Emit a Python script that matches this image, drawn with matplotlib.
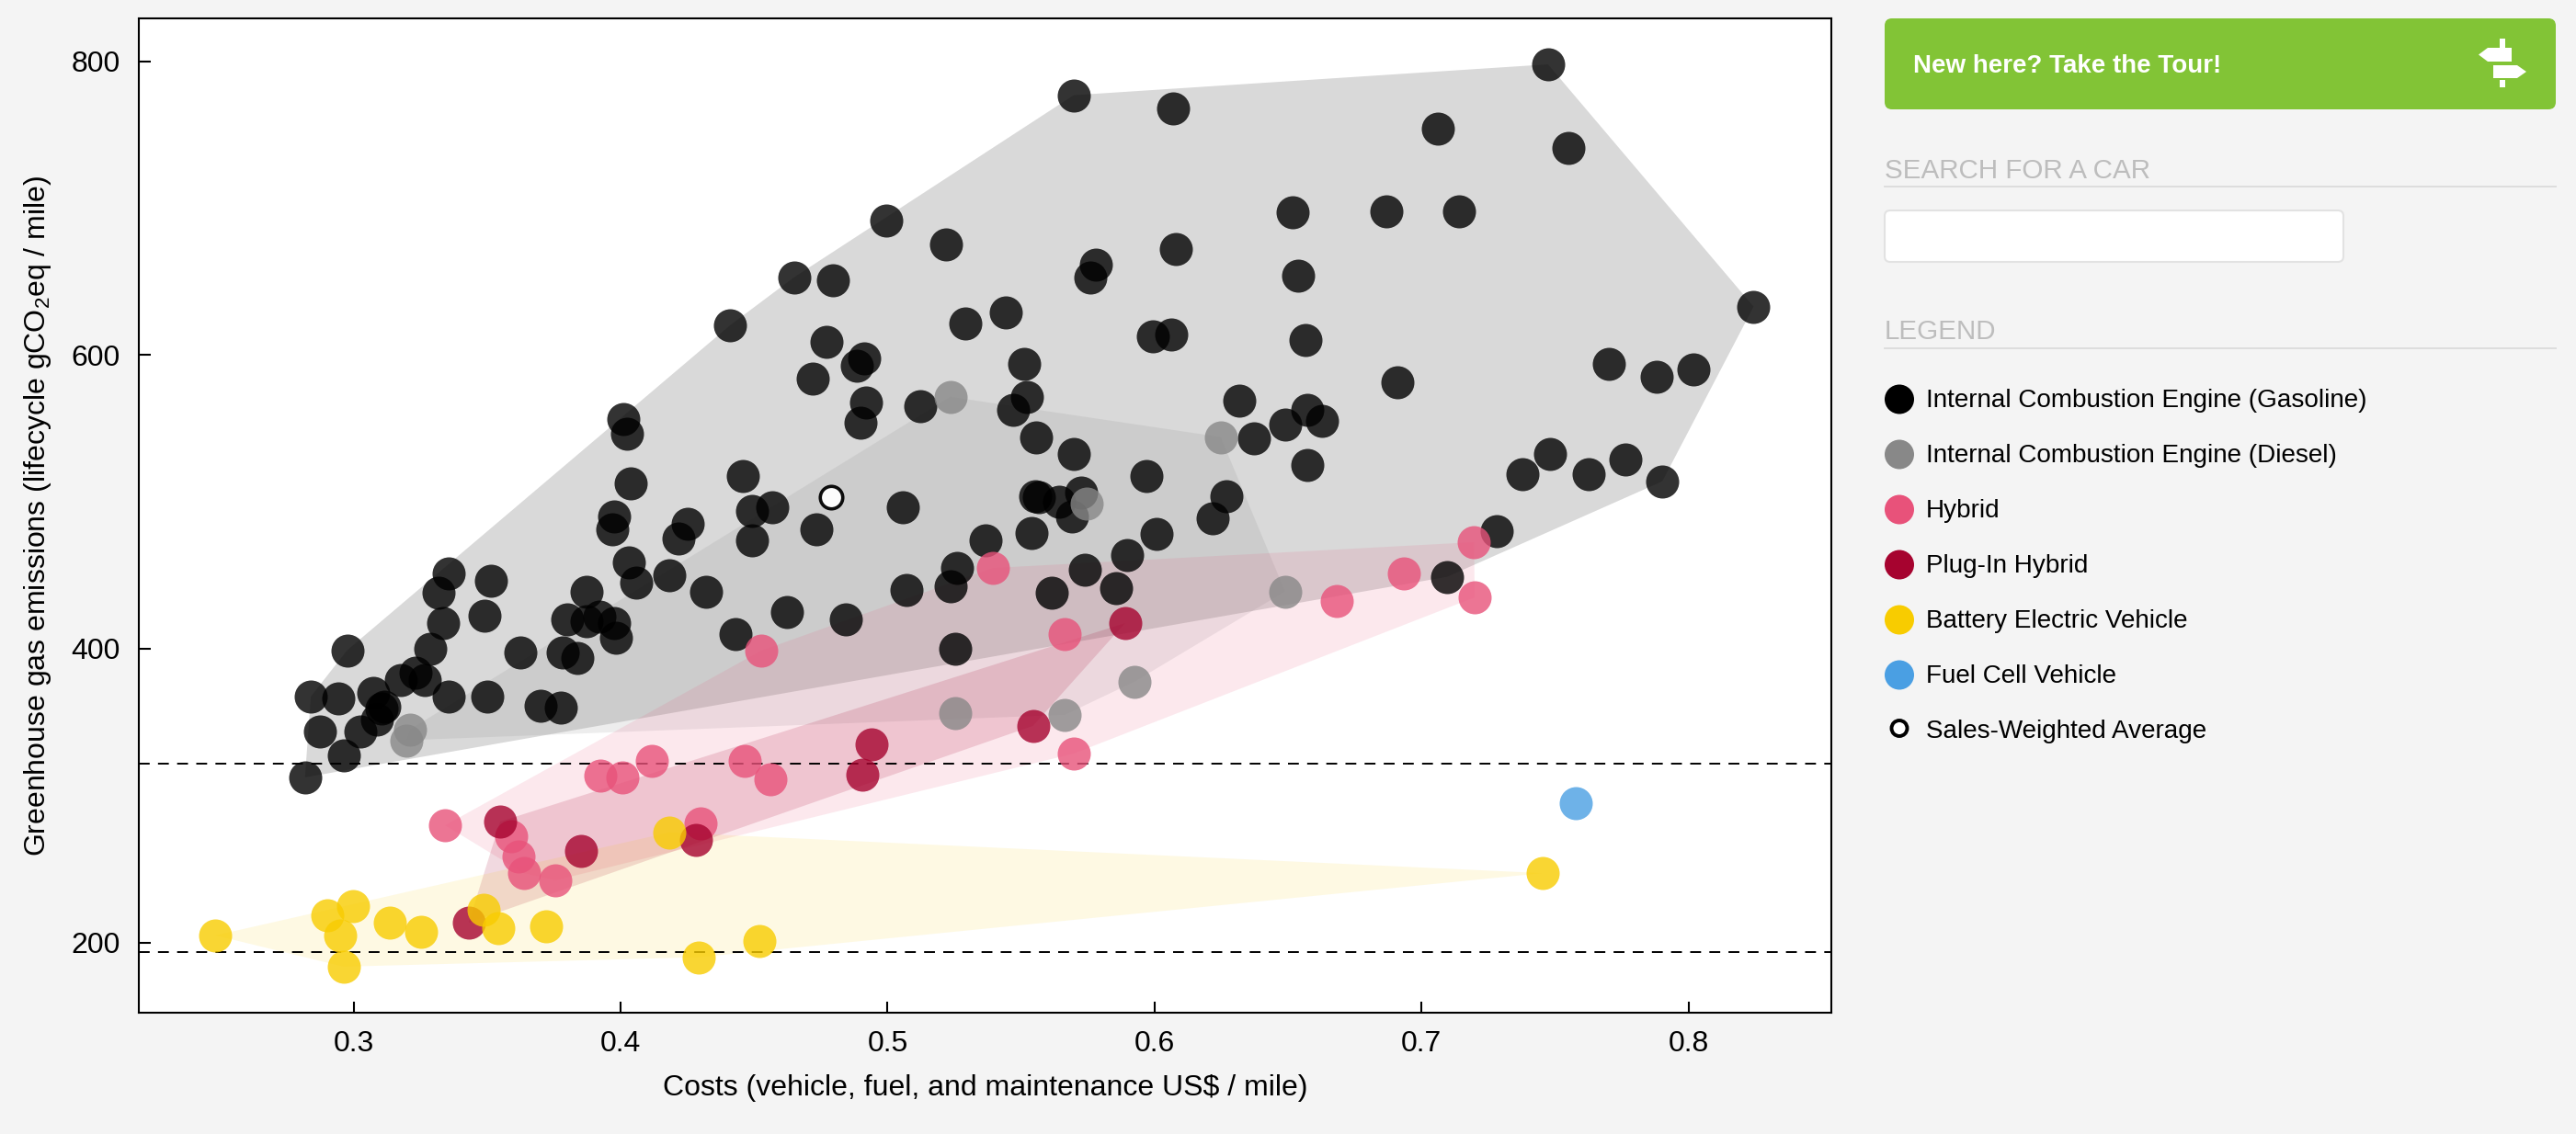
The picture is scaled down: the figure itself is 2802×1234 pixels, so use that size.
"""Cost vs. greenhouse gas emissions of cars, with a sidebar like the web page."""

import matplotlib

matplotlib.use("Agg")
import matplotlib.pyplot as plt
from matplotlib.patches import Circle, FancyBboxPatch, Polygon, Rectangle

plt.rcParams["font.family"] = ["Liberation Sans", "DejaVu Sans"]
plt.rcParams["mathtext.fontset"] = "custom"
plt.rcParams["mathtext.rm"] = "Liberation Sans"
plt.rcParams["mathtext.default"] = "rm"
plt.rcParams["lines.scale_dashes"] = False

gasoline_cost = [
    .7474, .5697, .6068, .7061, .7550, .8244, .6516, .6867, .7142, .5220, .5780, .5758, .6081, .6538,
    .5290, .5442, .5993, .6061, .6564, .6909, .7702, .7880, .8018, .5510, .5523, .5470, .5123, .6316,
    .6571, .6628, .6490, .6371, .5558, .5697, .6571, .7480, .7377, .7625, .7763, .7902, .5971, .6268,
    .6219, .5552, .5567, .5642, .5725, .5690, .5367, .5539, .6006, .5896, .7280, .5262, .5738, .7096,
    .5855, .5615, .5235, .5255, .5071, .4995, .4650, .4795, .4410, .4773, .4913, .4885, .4720, .4920,
    .4900, .4011, .4024, .4459, .4039, .4494, .4569, .4494, .4733, .5058, .3976, .3969, .4252, .4217,
    .4030, .4182, .3356, .3514, .3317, .3872, .4059, .4320, .4624, .4843, .3492, .3336, .3802, .3872,
    .3921, .3976, .3982, .4432, .3288, .2976, .3626, .3784, .3839, .3233, .3178, .3266, .2840, .2943,
    .3075, .3115, .3104, .3088, .3356, .3501, .3701, .3776, .2873, .3027, .2963, .2818,
]
gasoline_ghg = [
    798, 777, 768, 754, 741, 633, 697, 698, 698, 675.5, 661.6, 653, 672, 654,
    621.6, 629, 613, 614, 610.4, 581.5, 594, 585.4, 590.4, 594, 571.6, 563, 565.4, 569,
    563, 555, 552.8, 543, 544, 532.7, 525, 532.7, 519, 519, 529, 514, 517.6, 504,
    489, 504, 503, 500, 506.5, 490, 474, 479, 478, 464, 480, 455, 454, 449,
    441.5, 437.9, 442.8, 400, 440, 691.7, 653, 650.7, 620.3, 609, 597.6, 593, 584.2, 567.9,
    554, 556.5, 546.6, 517.6, 512.7, 494, 496.4, 473.8, 481.2, 496.4, 490, 481.2, 485, 475,
    459, 450, 451, 446.5, 438, 439, 445, 439, 425, 420, 422.7, 417.5, 420, 418.8,
    422, 417.5, 407.5, 410, 400, 399, 397.7, 397.7, 394, 384, 378.8, 379, 367.5, 366.3,
    370, 360.7, 359.5, 352, 367.5, 367.5, 361, 360, 343.8, 343.8, 327.6, 312.4,
]
diesel_cost = [.3211, .3198, .5235, .6248, .5747, .6489, .5925, .5664, .5255]
diesel_ghg = [345, 337.7, 571.6, 544.2, 499, 439, 377.6, 355, 356]
hybrid_cost = [
    .7197, .6935, .6683, .7199, .5664, .5697, .5394, .4527, .3923, .4008, .4118, .4466, .4562,
    .4300, .3343, .3589, .3617, .3637, .3756,
]
hybrid_ghg = [
    472.6, 451, 432.5, 435, 410, 328.6, 455, 398.7, 313.9, 312.4, 323.7, 323.7, 311.2,
    281, 279.8, 272.5, 258.5, 247.2, 242.3,
]
plugin_cost = [.4940, .4905, .3549, .3852, .4281, .3431, .5890, .5545]
plugin_ghg = [335, 314, 282.3, 262.4, 269.8, 213.4, 417.5, 347.5]
electric_cost = [.2482, .2902, .2998, .2950, .2963, .3137, .3253, .3488, .3543, .3721, .4182, .4292, .4520, .7454]
electric_ghg = [204.8, 218.6, 224.7, 204.8, 183.5, 213.4, 207.3, 222.2, 209.7, 211.2, 274.9, 189.9, 201, 247.2]
fuel_cell_cost = [.7577]
fuel_cell_ghg = [294.8]
average_cost = [.4788]
average_ghg = [503]
reference_ghg = [322, 193.4]

x_ticks = [0.3, 0.4, 0.5, 0.6, 0.7, 0.8]
y_ticks = [200, 400, 600, 800]
legend_labels = [
    "Internal Combustion Engine (Gasoline)",
    "Internal Combustion Engine (Diesel)",
    "Hybrid",
    "Plug-In Hybrid",
    "Battery Electric Vehicle",
    "Fuel Cell Vehicle",
    "Sales-Weighted Average",
]
legend_colors = ["#000000", "#888888", "#E8527A", "#A6032F", "#F8CC00", "#4A9FE3"]
hull_alpha = [0.15, 0.15, 0.13, 0.15, 0.11, 0.15]

W, H = 2802, 1234
BG = "#F4F4F4"


def _hull(xs, ys):
    """Convex hull of a group, the shaded area behind its points."""
    pts = sorted(zip(xs, ys))

    def half(seq):
        out = []
        for p in seq:
            while len(out) >= 2:
                a, b = out[-2], out[-1]
                if (b[0] - a[0]) * (p[1] - a[1]) - (b[1] - a[1]) * (p[0] - a[0]) > 0:
                    break
                out.pop()
            out.append(p)
        return out[:-1]

    return half(pts) + half(pts[::-1])


def _plot(ax):
    groups = [
        (gasoline_cost, gasoline_ghg),
        (diesel_cost, diesel_ghg),
        (hybrid_cost, hybrid_ghg),
        (plugin_cost, plugin_ghg),
        (electric_cost, electric_ghg),
        (fuel_cell_cost, fuel_cell_ghg),
    ]
    for (xs, ys), color, alpha in zip(groups, legend_colors, hull_alpha):
        if len(xs) > 2:
            ax.add_patch(Polygon(_hull(xs, ys), closed=True, fc=color, ec="none", alpha=alpha, zorder=1))
    for value in reference_ghg:
        ax.axhline(value, color="black", lw=1.4, ls=(0, (8.5, 6.5)), zorder=2)
    for (xs, ys), color in zip(groups, legend_colors):
        ax.scatter(xs, ys, s=672, color=color, alpha=0.8, linewidths=0, zorder=3)
    ax.scatter(average_cost, average_ghg, s=310, facecolor="white", edgecolor="black", linewidths=2.6, alpha=0.95, zorder=4)

    ax.set_xlim(0.2194, 0.8535)
    ax.set_ylim(152.4, 829.3)
    ax.set_xticks(x_ticks)
    ax.set_yticks(y_ticks)
    ax.tick_params(direction="in", length=9, width=1.5, labelsize=23, pad=14)
    for spine in ax.spines.values():
        spine.set_linewidth(1.5)


def _sidebar(side):
    """Everything on the page outside the chart, drawn in pixel coordinates."""
    side.set_xlim(0, W)
    side.set_ylim(H, 0)
    side.axis("off")

    # axis titles
    side.text(1072, 1184, "Costs (vehicle, fuel, and maintenance US$ / mile)", fontsize=23, ha="center", va="center")
    side.text(41, 561, r"Greenhouse gas emissions (lifecycle gCO$_2$eq / mile)", fontsize=23,
              rotation=90, ha="center", va="center")

    # tour button
    side.add_patch(FancyBboxPatch((2056, 26), 718, 87, boxstyle="round,pad=6,rounding_size=8", fc="#82C436", ec="none"))
    side.text(2081, 72, "New here? Take the Tour!", color="white", fontsize=20, fontweight="bold", va="center")
    side.add_patch(Rectangle((2719, 42), 6, 10, fc="white", ec="none"))
    side.add_patch(Rectangle((2719, 87), 6, 8, fc="white", ec="none"))
    side.add_patch(Polygon([(2696, 59.5), (2706, 52), (2732, 52), (2732, 67), (2706, 67)], fc="white", ec="none"))
    side.add_patch(Polygon([(2712, 71), (2738, 71), (2748, 78), (2738, 85), (2712, 85)], fc="white", ec="none"))

    # search box
    side.text(2050, 186, "SEARCH FOR A CAR", color="#BDBDBD", fontsize=21.3, va="center")
    side.plot([2050, 2780], [203, 203], color="#DDDDDD", lw=1.4)
    side.add_patch(FancyBboxPatch((2056, 235), 487, 44, boxstyle="round,pad=6,rounding_size=6",
                                  fc="white", ec="#E2E2E2", lw=1.5))
    side.text(2050, 361, "LEGEND", color="#BDBDBD", fontsize=21.3, va="center")
    side.plot([2050, 2780], [379, 379], color="#DDDDDD", lw=1.4)

    # legend rows
    for i, label in enumerate(legend_labels):
        y = 434.5 + 60 * i
        side.text(2095, y + 1.5, label, fontsize=20.1, va="center")
        if i < len(legend_colors):
            side.add_patch(Circle((2066, y), 16, fc=legend_colors[i], ec="none"))
        else:
            side.add_patch(Circle((2066, y - 2), 8.5, fc="white", ec="black", lw=2.8))


def main():
    fig = plt.figure(figsize=(W / 100, H / 100), dpi=100, facecolor=BG)
    ax = fig.add_axes([150.5 / W, (H - 1101.6) / H, (1992 - 150.5) / W, (1101.6 - 20) / H])
    side = fig.add_axes([0, 0, 1, 1], facecolor="none")
    _plot(ax)
    _sidebar(side)
    fig.savefig("out.png", dpi=100, facecolor=BG)
    plt.close(fig)


if __name__ == "__main__":
    main()
